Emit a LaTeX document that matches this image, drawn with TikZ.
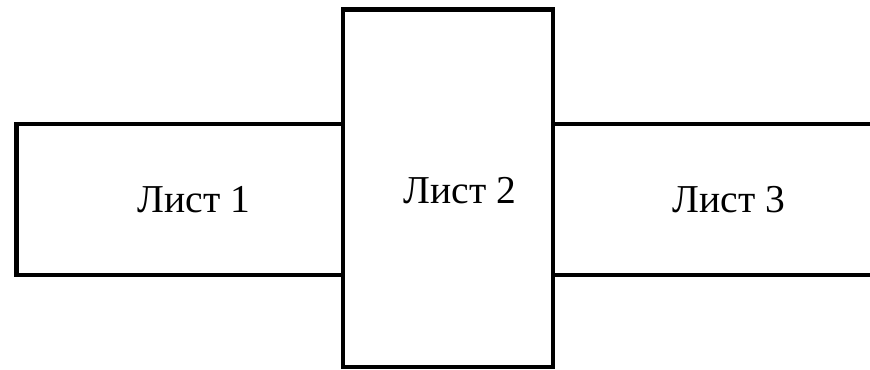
\documentclass[tikz,border=0pt]{standalone}
\usepackage{fontspec}
\setmainfont{Liberation Serif}
\usepackage{tikz}
\usetikzlibrary{positioning}

\begin{document}
\begin{tikzpicture}[x=0.02cm,y=-0.02cm,line width=0.09cm,every node/.style={font=\fontsize{22.5}{26}\selectfont}]

\useasboundingbox (0,0) rectangle (870,369);

% Sheets
\draw (343,124) -- (16.5,124) -- (16.5,275) -- (343,275);
\draw (343,9.5) rectangle (553,367);
\draw (870,124) -- (553,124);
\draw (870,275) -- (553,275);

% Labels
\node (s1) at (194,200) {Лист 1};
\node (s2) at (460,191) {Лист 2};
\node (s3) at (729,200) {Лист 3};

\end{tikzpicture}
\end{document}
